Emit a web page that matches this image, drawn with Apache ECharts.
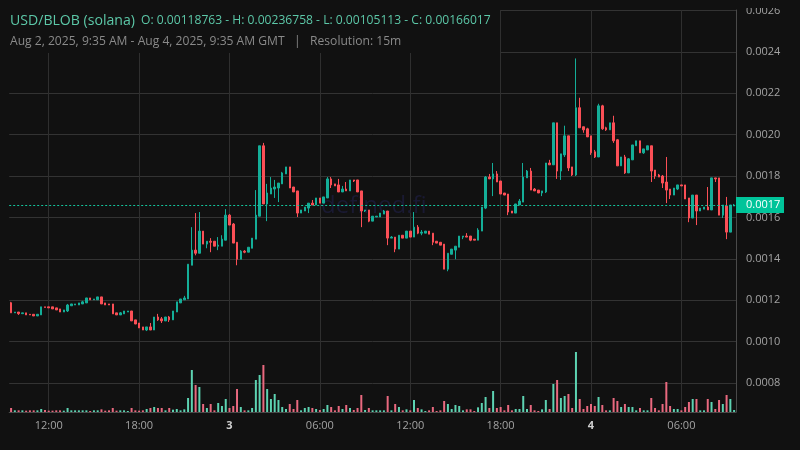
<!DOCTYPE html>
<html><head><meta charset="utf-8">
<style>html,body{margin:0;padding:0;background:#111}#c{width:800px;height:450px}</style>
<script src="https://cdn.jsdelivr.net/npm/echarts@6/dist/echarts.min.js"></script>
</head><body><div id="c"></div>
<script>
// Prices are in units of 0.00001
const PRICE_UNIT = 1e-5;
const opens = [118.8,113.9,114.3,113.5,113.9,113.2,113.2,112.4,112.9,116.8,
116.8,116.8,116.3,115.8,114.3,114.8,117.3,117.7,117.7,118.2,
118.7,121.1,120.2,120.2,121.6,118.7,118.2,118.2,113.9,112.9,
113.4,114.3,114.8,110.5,109.0,107.1,105.6,107.1,105.6,111.9,
111.0,110.0,111.9,110.5,114.3,118.7,120.2,120.6,136.9,144.2,
142.7,153.4,147.1,148.5,148.5,146.1,146.1,149.0,161.1,156.8,
148.0,139.8,143.7,143.2,145.1,149.5,160.6,194.6,166.5,171.3,
173.7,174.2,176.2,181.0,184.4,174.7,172.8,162.1,163.1,164.5,
166.9,166.0,169.4,166.9,169.4,178.6,176.2,175.7,172.3,173.7,
172.8,178.1,178.1,172.8,163.1,163.6,158.2,160.2,160.2,161.6,
163.1,150.0,150.5,144.7,151.4,150.0,153.4,150.5,155.3,152.4,
152.4,153.4,152.4,148.5,148.0,147.1,135.0,142.2,144.2,145.6,
150.5,151.0,151.0,149.5,149.0,153.4,164.5,179.5,178.6,181.0,
177.6,171.8,171.3,163.1,162.1,166.0,167.4,179.1,182.4,173.7,
173.2,171.8,172.3,186.3,185.4,205.7,182.4,190.2,199.4,184.4,
180.5,213.0,203.8,202.8,199.4,191.7,189.2,213.9,203.3,202.3,
205.7,197.5,184.9,189.2,181.5,187.8,194.6,197.0,191.2,192.6,
194.6,182.9,180.5,180.0,177.1,173.7,170.8,173.7,175.7,175.7,
169.4,159.7,170.8,163.1,164.0,165.0,163.6,179.1,179.1,161.1,
165.5,152.9,165.5];
const closes = [113.9,114.3,113.5,113.9,112.9,112.9,112.4,113.2,116.8,116.5,
116.3,115.8,115.3,114.3,115.3,117.7,118.2,118.2,118.7,119.2,
121.1,120.2,120.6,121.6,118.2,117.7,117.7,113.4,112.9,113.9,
114.8,114.8,110.0,108.5,106.6,105.6,107.1,105.6,111.9,110.5,
110.0,111.9,110.5,114.8,119.2,120.6,121.1,137.4,144.2,142.7,
153.4,147.1,148.5,148.0,146.1,146.6,149.5,161.1,156.3,147.6,
139.8,143.7,143.2,145.6,150.0,161.1,194.6,166.5,171.8,174.2,
174.7,176.6,181.5,184.4,174.2,172.3,162.1,163.6,165.0,166.9,
166.0,169.4,166.9,169.9,178.6,175.7,175.2,172.3,173.7,172.8,
178.1,177.6,172.3,163.1,163.6,158.2,160.6,160.6,162.1,163.1,
150.0,150.5,144.7,151.4,150.0,153.4,150.5,155.3,152.4,152.9,
153.4,151.9,148.0,147.6,146.6,135.0,142.7,144.7,146.1,151.0,
151.0,150.5,149.0,149.0,153.9,165.0,179.5,178.6,181.0,177.1,
171.3,170.8,162.6,162.1,166.5,167.9,179.5,182.4,173.2,172.8,
171.8,172.8,186.3,185.4,205.7,182.4,190.7,199.4,183.9,180.5,
213.0,203.3,202.3,198.9,191.2,189.2,213.9,202.8,202.3,205.7,
197.0,184.9,189.2,181.5,188.3,195.0,197.0,191.2,193.1,194.6,
182.4,180.0,179.5,176.6,173.2,170.8,174.2,175.7,175.2,168.9,
159.7,170.8,163.1,164.5,165.0,163.6,179.1,178.6,161.1,166.0,
152.9,166.0,166.0];
const lows = [113.9,113.9,112.9,113.5,112.9,112.9,112.4,112.4,112.9,116.5,
116.3,115.8,115.3,114.3,114.3,114.3,117.3,117.7,117.7,118.2,
118.7,120.2,120.2,120.2,118.2,117.7,117.7,113.4,112.9,112.9,
113.4,114.3,110.0,108.5,106.6,105.6,105.1,105.6,105.6,110.0,
109.0,110.0,109.5,110.5,114.3,118.7,120.2,120.6,136.9,141.7,
142.7,147.1,145.1,143.2,146.1,144.2,146.1,149.0,156.3,147.6,
136.9,139.8,142.7,143.2,145.1,149.5,160.6,166.5,158.2,171.3,
169.4,167.4,176.2,181.0,174.2,172.3,160.2,162.1,163.1,162.1,
166.0,166.0,166.9,166.9,169.4,174.2,175.2,172.3,172.3,172.8,
172.8,177.1,172.3,155.3,162.6,157.7,158.2,160.2,160.2,161.6,
146.6,150.0,143.2,144.7,150.0,150.0,150.5,150.5,151.9,151.4,
152.4,151.9,146.6,147.6,146.6,135.0,134.0,142.2,139.8,145.6,
149.5,150.5,148.5,149.0,149.0,153.4,164.0,178.6,170.3,177.1,
171.3,170.8,161.1,162.1,162.1,166.0,167.4,179.1,173.2,172.8,
171.8,170.3,171.8,185.4,185.4,178.6,178.1,189.2,182.4,180.0,
180.0,203.3,200.9,198.9,190.2,188.7,189.2,202.3,201.8,202.3,
196.0,184.9,184.9,181.0,181.5,187.8,194.6,191.2,190.7,192.6,
177.1,178.6,179.5,174.2,166.9,168.9,170.8,173.2,175.2,168.9,
157.7,159.7,156.3,163.1,164.0,163.6,163.6,177.1,161.1,159.7,
149.5,152.9,165.5];
const highs = [119.2,114.3,114.3,113.9,113.9,113.2,113.2,113.2,116.8,116.8,
116.8,116.8,116.3,115.8,115.3,118.2,118.2,118.2,118.7,119.7,
121.1,121.1,120.6,121.6,121.6,118.7,118.2,118.2,113.9,114.3,
114.8,114.8,114.8,110.5,109.0,107.1,107.1,109.0,111.9,113.4,
111.9,111.9,112.4,114.8,119.2,120.6,122.1,137.4,155.3,162.1,
162.6,153.4,148.5,150.0,148.5,150.5,151.4,164.0,161.6,157.3,
148.0,144.2,144.2,145.6,150.0,173.2,194.6,196.0,176.2,179.5,
178.1,176.6,182.0,184.4,184.4,174.7,172.8,163.6,165.0,166.9,
168.4,169.4,169.4,169.9,179.5,179.5,176.2,178.6,175.2,177.1,
178.1,178.1,178.1,172.8,163.6,163.6,160.6,160.6,162.1,163.6,
163.1,151.0,150.5,151.4,151.4,153.4,153.4,162.6,156.3,153.9,
153.4,153.4,152.4,148.5,148.0,147.1,142.7,144.7,146.1,151.0,
151.0,152.4,151.0,149.5,154.8,165.0,180.0,181.0,186.3,182.4,
177.6,171.8,171.3,163.1,166.5,168.9,186.3,182.9,183.9,174.2,
173.2,172.8,186.3,187.8,205.7,205.7,190.7,204.3,199.4,184.4,
236.8,217.8,203.8,203.3,199.4,192.6,214.9,214.4,203.8,205.7,
209.1,197.9,189.2,190.2,188.7,195.0,197.0,197.0,193.1,194.6,
194.6,182.9,181.0,180.5,189.2,173.7,174.2,175.7,175.7,175.7,
169.4,170.8,170.8,164.5,165.0,174.7,179.1,179.1,179.1,166.0,
169.9,166.0,166.5];
const volumes = [12,5,5,5,4,5,5,5,9,6,
4,4,5,5,4,12,5,5,5,5,
5,3,5,5,8,4,5,12,4,5,
5,3,12,5,4,5,9,12,15,12,
12,5,12,7,9,5,8,42,126,81,
75,24,12,24,5,27,18,39,12,18,
69,15,5,5,12,96,111,141,69,39,
54,36,15,9,24,9,36,5,12,15,
12,9,6,9,21,15,5,18,9,21,
12,6,12,51,6,12,5,5,5,5,
48,5,24,15,5,8,5,36,12,8,
3,5,15,3,5,33,24,9,21,18,
5,8,8,3,14,27,45,12,63,12,
15,5,21,5,9,9,48,9,21,5,
3,8,36,9,84,96,42,48,54,12,
180,39,9,18,24,18,45,21,5,5,
42,33,15,24,15,15,5,12,5,5,
42,12,5,24,90,18,9,9,5,15,
30,39,39,5,5,39,30,9,36,24,
51,39,6];
const xTickLabels = {10:'12:00',34:'18:00',58:'3',82:'06:00',106:'12:00',130:'18:00',154:'4',178:'06:00'};
const yTicks = [0.0008,0.0010,0.0012,0.0014,0.0016,0.0018,0.0020,0.0022,0.0024,0.0026];
const lastPrice = 0.00166017;
const lastPriceLabel = '0.0017';
const titleText = 'USD/BLOB (solana)';
const ohlcText = 'O: 0.00118763 - H: 0.00236758 - L: 0.00105113 - C: 0.00166017';
const subText = 'Aug 2, 2025, 9:35 AM - Aug 4, 2025, 9:35 AM GMT   |   Resolution: 15m';

const UP = '#14ae98', DOWN = '#fb4f56';
const VOL_UP = '#5dd3b2', VOL_DOWN = '#e9697f';
const FONT = '"Open Sans","Noto Sans",sans-serif';
const categories = opens.map((_, i) => 'bar ' + i);
const candleData = opens.map((o, i) => [o * PRICE_UNIT, closes[i] * PRICE_UNIT, lows[i] * PRICE_UNIT, highs[i] * PRICE_UNIT]);
const volumeData = volumes.map((v, i) => ({
  value: v,
  itemStyle: { color: closes[i] >= opens[i] ? VOL_UP : VOL_DOWN }
}));
const isTick = (i) => xTickLabels[i] !== undefined;

const chart = echarts.init(document.getElementById('c'), null, { renderer: 'canvas', width: 800, height: 450 });
chart.setOption({
  animation: false,
  backgroundColor: '#111111',
  grid: [
    { left: 9.2, right: 64, top: 10, bottom: 38 },
    { left: 9.2, right: 64, top: 352, bottom: 38 }
  ],
  xAxis: [
    {
      type: 'category', data: categories, gridIndex: 0,
      axisLine: { show: true, lineStyle: { color: '#4a4a4a', width: 1 } },
      axisTick: { show: false },
      axisLabel: {
        interval: (i) => isTick(i), margin: 8, fontFamily: FONT, fontSize: 11, color: '#a3a3a3',
        hideOverlap: false,
        formatter: (v, i) => {
          const t = xTickLabels[i];
          return t && t.length === 1 ? '{d|' + t + '}' : t;
        },
        rich: { d: { fontFamily: FONT, fontSize: 11, fontWeight: 'bold', color: '#cfcfcf' } }
      },
      splitLine: { show: true, interval: (i) => isTick(i), alignWithLabel: true, lineStyle: { color: '#2f2f2f', width: 1 } }
    },
    {
      type: 'category', data: categories, gridIndex: 1,
      axisLine: { show: false }, axisTick: { show: false }, axisLabel: { show: false }, splitLine: { show: false }
    }
  ],
  yAxis: [
    {
      type: 'value', position: 'right', gridIndex: 0, min: 0.00066, max: 0.002602, scale: true,
      axisLine: { show: true, lineStyle: { color: '#4a4a4a', width: 1 } },
      axisTick: { show: false, customValues: yTicks },
      axisLabel: {
        customValues: yTicks, margin: 10, fontFamily: FONT, fontSize: 11, color: '#a3a3a3',
        showMinLabel: true, showMaxLabel: true,
        formatter: (v) => v.toFixed(4)
      },
      splitLine: { show: true, lineStyle: { color: '#333333', width: 1 } }
    },
    {
      type: 'value', gridIndex: 1, min: 0, max: 180,
      axisLine: { show: false }, axisTick: { show: false }, axisLabel: { show: false }, splitLine: { show: false }
    }
  ],
  series: [
    {
      type: 'candlestick', xAxisIndex: 0, yAxisIndex: 0, data: candleData, barWidth: 2, z: 3,
      itemStyle: { color: UP, color0: DOWN, borderColor: UP, borderColor0: DOWN, borderWidth: 1 },
      markLine: {
        silent: true, symbol: 'none', animation: false, z: 5, precision: 8,
        data: [{ yAxis: lastPrice }],
        lineStyle: { color: '#14c49c', type: [2, 2], width: 1 },
        label: {
          show: true, position: 'end', distance: 0, formatter: lastPriceLabel,
          backgroundColor: '#00c49a', color: '#ffffff', fontFamily: FONT, fontSize: 11,
          padding: [2, 9, 2, 10], borderRadius: 0, width: 29, height: 12, lineHeight: 12
        }
      }
    },
    {
      type: 'bar', xAxisIndex: 1, yAxisIndex: 1, data: volumeData, barWidth: 2, z: 2
    }
  ],
  graphic: [
    { type: 'text', z: 1, silent: true, left: 321, top: 194,
      style: { text: 'defined.fi', fill: '#1a1a33', font: '24px ' + FONT } },
    { type: 'rect', z: 100, silent: true, shape: { x: 0, y: 0, width: 500, height: 53 }, style: { fill: '#111111' } },
    { type: 'rect', z: 100, silent: true, shape: { x: 737, y: 0, width: 63, height: 8 }, style: { fill: '#111111' } },
    { type: 'text', z: 101, silent: true, left: 10, top: 14,
      style: { text: titleText, fill: '#5cc8a8', font: '14.1px ' + FONT } },
    { type: 'text', z: 101, silent: true, left: 141, top: 15,
      style: { text: ohlcText, fill: '#5cc8a8', font: '12.1px ' + FONT } },
    { type: 'text', z: 101, silent: true, left: 10, top: 36,
      style: { text: subText, fill: '#8a8a8a', font: '12.1px ' + FONT } }
  ]
});
</script></body></html>
